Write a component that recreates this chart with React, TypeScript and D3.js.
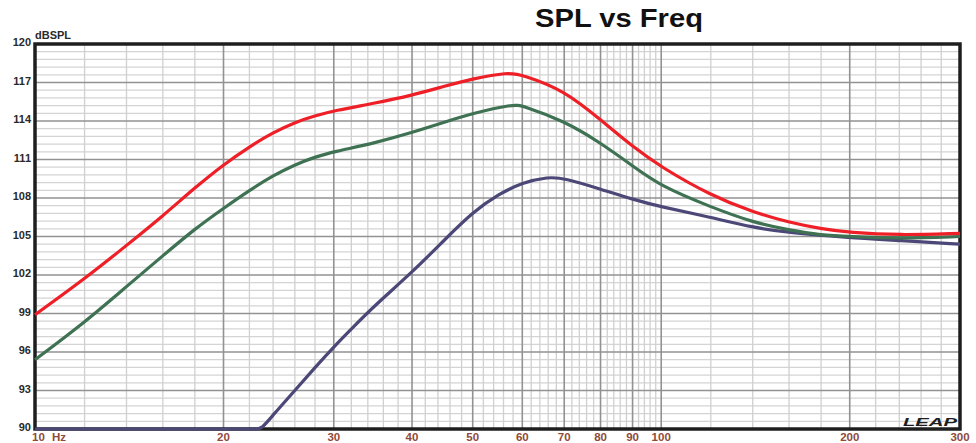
import React, { Component } from 'react'
import * as d3 from 'd3'

// frequency axis ticks (Hz)
const xTickLabels = [20, 30, 40, 50, 60, 70, 80, 90, 100, 200, 300]
const xMajor = [20, 30, 40, 50, 60, 70, 80, 90, 100, 200]
const xMinor = [12, 14, 16, 18, 22, 24, 26, 28, 32, 34, 36, 38, 42, 44, 46, 48, 52, 54, 56, 58,
    62, 64, 66, 68, 72, 74, 76, 78, 82, 84, 86, 88, 92, 94, 96, 98, 120, 140, 160, 180, 220, 240, 260, 280]

// SPL axis ticks (dB)
const yTickLabels = [90, 93, 96, 99, 102, 105, 108, 111, 114, 117, 120]

// red curve
const redFreq = [10, 12, 14, 16, 18, 20, 22, 24, 26, 28, 30, 35, 40, 45, 50, 57, 60, 70, 80, 90, 100, 120, 140, 160, 180, 200, 240, 300]
const redSpl = [98.9, 101.7, 104.3, 106.6, 108.8, 110.6, 112.0, 113.1, 113.9, 114.4, 114.8, 115.4, 116.0, 116.7, 117.3, 117.8, 117.6, 116.4, 114.1, 112.0, 110.4, 108.2, 106.9, 106.1, 105.6, 105.3, 105.1, 105.25]

// green curve
const greenFreq = [10, 12, 14, 16, 18, 20, 22, 24, 26, 28, 30, 35, 40, 45, 50, 58, 60, 70, 80, 90, 100, 120, 140, 160, 180, 200, 240, 300]
const greenSpl = [95.4, 98.3, 101.1, 103.5, 105.6, 107.2, 108.6, 109.75, 110.6, 111.2, 111.6, 112.3, 113.1, 113.9, 114.6, 115.3, 115.2, 114.0, 112.3, 110.5, 108.9, 107.3, 106.1, 105.5, 105.1, 105.0, 104.85, 105.0]

// purple curve (held at the 90 dB floor below ~23 Hz)
const purpleFreq = [10, 14, 18, 21, 22.5, 23, 24, 26, 28, 30, 32, 35, 40, 45, 50, 55, 60, 66, 70, 80, 90, 100, 120, 140, 160, 200, 240, 300]
const purpleSpl = [90, 90, 90, 90, 90, 90, 91.1, 93.0, 94.8, 96.4, 97.8, 99.7, 102.2, 104.7, 106.9, 108.3, 109.2, 109.65, 109.55, 108.7, 107.9, 107.3, 106.5, 105.7, 105.3, 104.9, 104.7, 104.4]

const font = '"Liberation Sans", Arial, Helvetica, sans-serif'

export class SplChart extends Component {
    componentDidMount() {
        this.drawChart();
    }
    drawChart() {
        let width = 976
        let height = 443
        let left = 35, right = 960, top = 44, bottom = 429

        // strict mode mounts twice, start from an empty div
        d3.select('#spl').selectAll('*').remove()

        var svg = d3.select('#spl')
            .append('svg')
            .attr('width', width)
            .attr('height', height)
            .style('display', 'block')

        var x = d3.scaleLog().domain([10, 300]).range([left, right])
        var y = d3.scaleLinear().domain([90, 120]).range([bottom, top])

        // minor grid
        var minorY = d3.range(0, 51).map(i => 90 + i * 0.6).filter(v => Math.abs(v / 3 - Math.round(v / 3)) > 0.01)
        svg.selectAll('.hminor').data(minorY).enter().append('line')
            .attr('x1', left).attr('x2', right)
            .attr('y1', d => y(d)).attr('y2', d => y(d))
            .attr('stroke', '#d4d4d4').attr('stroke-width', 1.2)
        svg.selectAll('.vminor').data(xMinor).enter().append('line')
            .attr('x1', d => x(d)).attr('x2', d => x(d))
            .attr('y1', top).attr('y2', bottom)
            .attr('stroke', '#d0d0d0').attr('stroke-width', 1.3)

        // major grid
        svg.selectAll('.hmajor').data(yTickLabels).enter().append('line')
            .attr('x1', left).attr('x2', right)
            .attr('y1', d => y(d)).attr('y2', d => y(d))
            .attr('stroke', '#929292').attr('stroke-width', 1.6)
        svg.selectAll('.vmajor').data(xMajor).enter().append('line')
            .attr('x1', d => x(d)).attr('x2', d => x(d))
            .attr('y1', top).attr('y2', bottom)
            .attr('stroke', '#929292').attr('stroke-width', 1.6)

        // frame
        svg.append('rect')
            .attr('x', left).attr('y', top)
            .attr('width', right - left).attr('height', bottom - top)
            .attr('fill', 'none').attr('stroke', '#1e1e1e').attr('stroke-width', 3.5)

        // curves
        var line = d3.line()
            .x(d => x(d[0]))
            .y(d => y(d[1]))
            .curve(d3.curveBasis)

        var series = [
            { f: purpleFreq, v: purpleSpl, color: '#4b4777' },
            { f: greenFreq, v: greenSpl, color: '#3e7253' },
            { f: redFreq, v: redSpl, color: '#ee1f26' },
        ]
        series.forEach(s => {
            svg.append('path')
                .datum(s.f.map((f, i) => [f, s.v[i]]))
                .attr('d', line)
                .attr('fill', 'none')
                .attr('stroke', s.color)
                .attr('stroke-width', 3.2)
                .attr('stroke-linejoin', 'round')
        })

        // y labels
        svg.selectAll('.ylab').data(yTickLabels).enter().append('text')
            .attr('x', 31).attr('y', d => y(d) + 2)
            .attr('text-anchor', 'end')
            .attr('font-family', font).attr('font-weight', 'bold').attr('font-size', 11)
            .attr('fill', '#2a2a2a')
            .text(d => d)
        svg.append('text')
            .attr('x', 35).attr('y', 39)
            .attr('font-family', font).attr('font-weight', 'bold').attr('font-size', 11)
            .attr('fill', '#2a2a2a')
            .text('dBSPL')

        // x labels
        svg.selectAll('.xlab').data(xTickLabels).enter().append('text')
            .attr('x', d => x(d)).attr('y', 441)
            .attr('text-anchor', 'middle')
            .attr('font-family', font).attr('font-weight', 'bold').attr('font-size', 11.5)
            .attr('fill', '#8f4a3a')
            .text(d => d)
        svg.append('text')
            .attr('x', 32).attr('y', 441)
            .attr('font-family', font).attr('font-weight', 'bold').attr('font-size', 11.5)
            .attr('fill', '#8f4a3a')
            .text('10')
        svg.append('text')
            .attr('x', 52).attr('y', 441)
            .attr('font-family', font).attr('font-weight', 'bold').attr('font-size', 11.5)
            .attr('fill', '#8f4a3a')
            .text('Hz')

        // title
        svg.append('text')
            .attr('x', 535).attr('y', 27)
            .attr('font-family', font).attr('font-weight', 'bold').attr('font-size', 26)
            .attr('textLength', 168).attr('lengthAdjust', 'spacingAndGlyphs')
            .attr('fill', '#111')
            .text('SPL vs Freq')

        // logo
        svg.append('text')
            .attr('x', 903).attr('y', 426)
            .attr('font-family', font).attr('font-weight', 'bold').attr('font-style', 'italic')
            .attr('font-size', 10)
            .attr('textLength', 54).attr('lengthAdjust', 'spacingAndGlyphs')
            .attr('fill', '#1e1e1e')
            .text('LEAP')
    }
    render() {
        return (
            <div id="spl" style={{ position: 'absolute', left: 0, top: 0 }}></div>
        )
    }
}

export default function App() {
    return <SplChart />
}
